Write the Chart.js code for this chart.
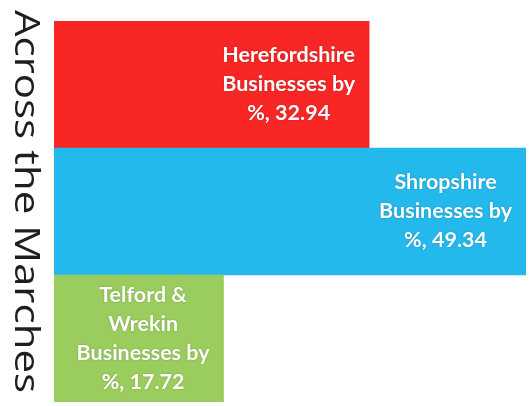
<!DOCTYPE html>
<html>
<head>
<meta charset="utf-8">
<script src="https://cdn.jsdelivr.net/npm/chart.js@4.4.1/dist/chart.umd.min.js"></script>
<style>
  html, body { margin: 0; padding: 0; background: #fff; }
  #wrap { width: 529px; height: 406px; position: relative; }
</style>
</head>
<body>
<div id="wrap"><canvas id="chart"></canvas></div>
<script>
const categories = ['Herefordshire', 'Shropshire', 'Telford & Wrekin'];
const values = [32.94, 49.34, 17.72];
const barColors = ['#f92626', '#24b9ec', '#9bcd5e'];
const axisTitle = 'Across the Marches';

const LABEL_FONT = 'bold 21.5px Lato';
const LINE_H = 29;

function wrapText(ctx, text, maxW) {
    const words = text.split(' ');
    const lines = [];
    let line = '';
    words.forEach(w => {
        const test = line ? line + ' ' + w : w;
        if (line && ctx.measureText(test).width > maxW) {
            lines.push(line);
            line = w;
        } else {
            line = test;
        }
    });
    if (line) lines.push(line);
    return lines;
}

// data labels drawn inside the end of each bar
const barLabels = {
    id: 'barLabels',
    afterDatasetsDraw(chart) {
        const ctx = chart.ctx;
        const meta = chart.getDatasetMeta(0);
        ctx.save();
        ctx.font = LABEL_FONT;
        ctx.fillStyle = '#ffffff';
        ctx.textAlign = 'center';
        ctx.textBaseline = 'middle';
        ctx.shadowColor = 'rgba(0,0,0,0.25)';
        ctx.shadowBlur = 2;
        meta.data.forEach((bar, i) => {
            const text = categories[i] + ' Businesses by %, ' + values[i];
            const lines = wrapText(ctx, text, 152);
            const w = Math.max(...lines.map(l => ctx.measureText(l).width));
            const cx = bar.x - 14 - w / 2;
            const cy = bar.y;
            lines.forEach((l, j) => {
                ctx.fillText(l, cx, cy + (j - (lines.length - 1) / 2) * LINE_H);
            });
        });
        ctx.restore();
    }
};

// vertical title reading top to bottom
const sideTitle = {
    id: 'sideTitle',
    afterDraw(chart) {
        const ctx = chart.ctx;
        ctx.save();
        ctx.translate(15, 10);
        ctx.rotate(Math.PI / 2);
        ctx.font = '35px "Open Sans"';
        ctx.fillStyle = '#1e1e1e';
        ctx.textAlign = 'left';
        ctx.textBaseline = 'alphabetic';
        const w = ctx.measureText(axisTitle).width;
        ctx.scale(383 / w, 1);
        ctx.fillText(axisTitle, 0, 0);
        ctx.restore();
    }
};

new Chart(document.getElementById('chart'), {
    type: 'bar',
    data: {
        labels: categories,
        datasets: [{
            data: values,
            backgroundColor: barColors,
            borderWidth: 0,
            barPercentage: 1,
            categoryPercentage: 1
        }]
    },
    options: {
        indexAxis: 'y',
        responsive: true,
        maintainAspectRatio: false,
        animation: false,
        layout: { padding: { left: 54, right: 3, top: 21, bottom: 4 } },
        plugins: {
            legend: { display: false },
            tooltip: { enabled: false }
        },
        scales: {
            x: { display: false, min: 0, max: 49.34 },
            y: { display: false }
        }
    },
    plugins: [barLabels, sideTitle]
});
</script>
</body>
</html>
